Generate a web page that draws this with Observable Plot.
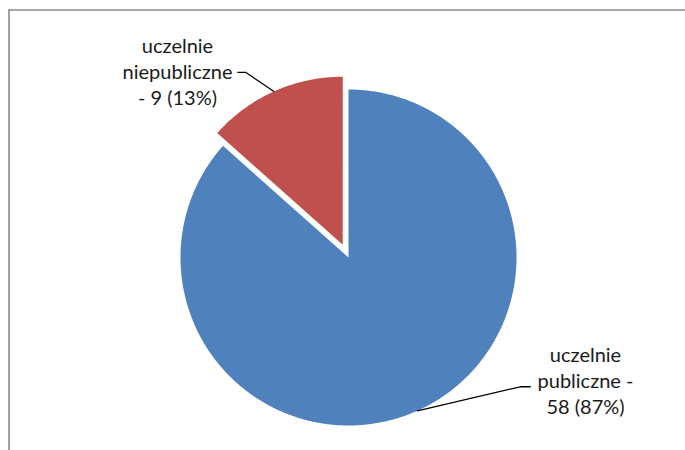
<!DOCTYPE html>
<html>
<head>
<meta charset="utf-8">
<script src="https://cdn.jsdelivr.net/npm/d3@7"></script>
<script src="https://cdn.jsdelivr.net/npm/@observablehq/plot@0.6"></script>
<style>
  html, body { margin: 0; padding: 0; background: #fff; }
  #chart { width: 685px; height: 450px; }
</style>
</head>
<body>
<div id="chart"></div>
<script>
// ---- data ----
const categories = ["uczelnie publiczne", "uczelnie niepubliczne"];
const values = [58, 9];
const labelLines = [
  ["uczelnie", "publiczne -", "58 (87%)"],
  ["uczelnie", "niepubliczne", "- 9 (13%)"]
];
const colors = ["#4F81BD", "#C0504D"];

// ---- layout ----
const W = 685, H = 450;
const cx = 348, cy = 257, R = 168;
const explode = [0, 14];
const labelPos = [[585, 379], [177, 70]];
const elbowOffset = [[103, -24], [-28, -19]]; // from arc mid point to elbow
const elbowLen = [10, -8];

const pie = d3.pie().sort(null).value(d => d)(values);

const slices = pie.map((p, i) => {
  const mid = (p.startAngle + p.endAngle) / 2;
  const ox = cx + explode[i] * Math.sin(mid);
  const oy = cy - explode[i] * Math.cos(mid);
  const pts = [{x: ox, y: oy}];
  const n = Math.max(2, Math.ceil((p.endAngle - p.startAngle) / (Math.PI / 360)));
  for (let k = 0; k <= n; k++) {
    const a = p.startAngle + (p.endAngle - p.startAngle) * k / n;
    pts.push({x: ox + R * Math.sin(a), y: oy - R * Math.cos(a)});
  }
  const mx = ox + R * Math.sin(mid), my = oy - R * Math.cos(mid);
  const ex = mx + elbowOffset[i][0], ey = my + elbowOffset[i][1];
  const leader = [{x: mx, y: my}, {x: ex, y: ey}, {x: ex + elbowLen[i], y: ey}];
  return {pts, leader, cat: categories[i]};
});

const labels = labelLines.map((lines, i) => ({
  x: labelPos[i][0], y: labelPos[i][1], text: lines.join("\n")
}));

const marks = [
  // chart border (left and top edge)
  Plot.ruleX([8.5], {y1: 9.5, y2: H, stroke: "#8a8a8a", strokeWidth: 1.6}),
  Plot.ruleY([9.5], {x1: 8.5, x2: W, stroke: "#8a8a8a", strokeWidth: 1.6})
];
slices.forEach((s, i) => {
  marks.push(Plot.line(s.pts, {x: "x", y: "y", fill: colors[i], stroke: "none", curve: "linear-closed"}));
});
slices.forEach(s => {
  marks.push(Plot.line(s.leader, {x: "x", y: "y", stroke: "#000", strokeWidth: 1.3}));
});
marks.push(Plot.text(labels, {
  x: "x", y: "y", text: "text",
  fontSize: 20, lineHeight: 1.31, textAnchor: "middle", fill: "#1a1a1a",
  fontFamily: "Lato", fontWeight: 400
}));

const chart = Plot.plot({
  width: W, height: H,
  margin: 0,
  x: {domain: [0, W], range: [0, W], axis: null},
  y: {domain: [0, H], range: [0, H], axis: null},
  style: {background: "#fff", fontFamily: "Lato"},
  marks
});
document.getElementById("chart").appendChild(chart);
</script>
</body>
</html>
